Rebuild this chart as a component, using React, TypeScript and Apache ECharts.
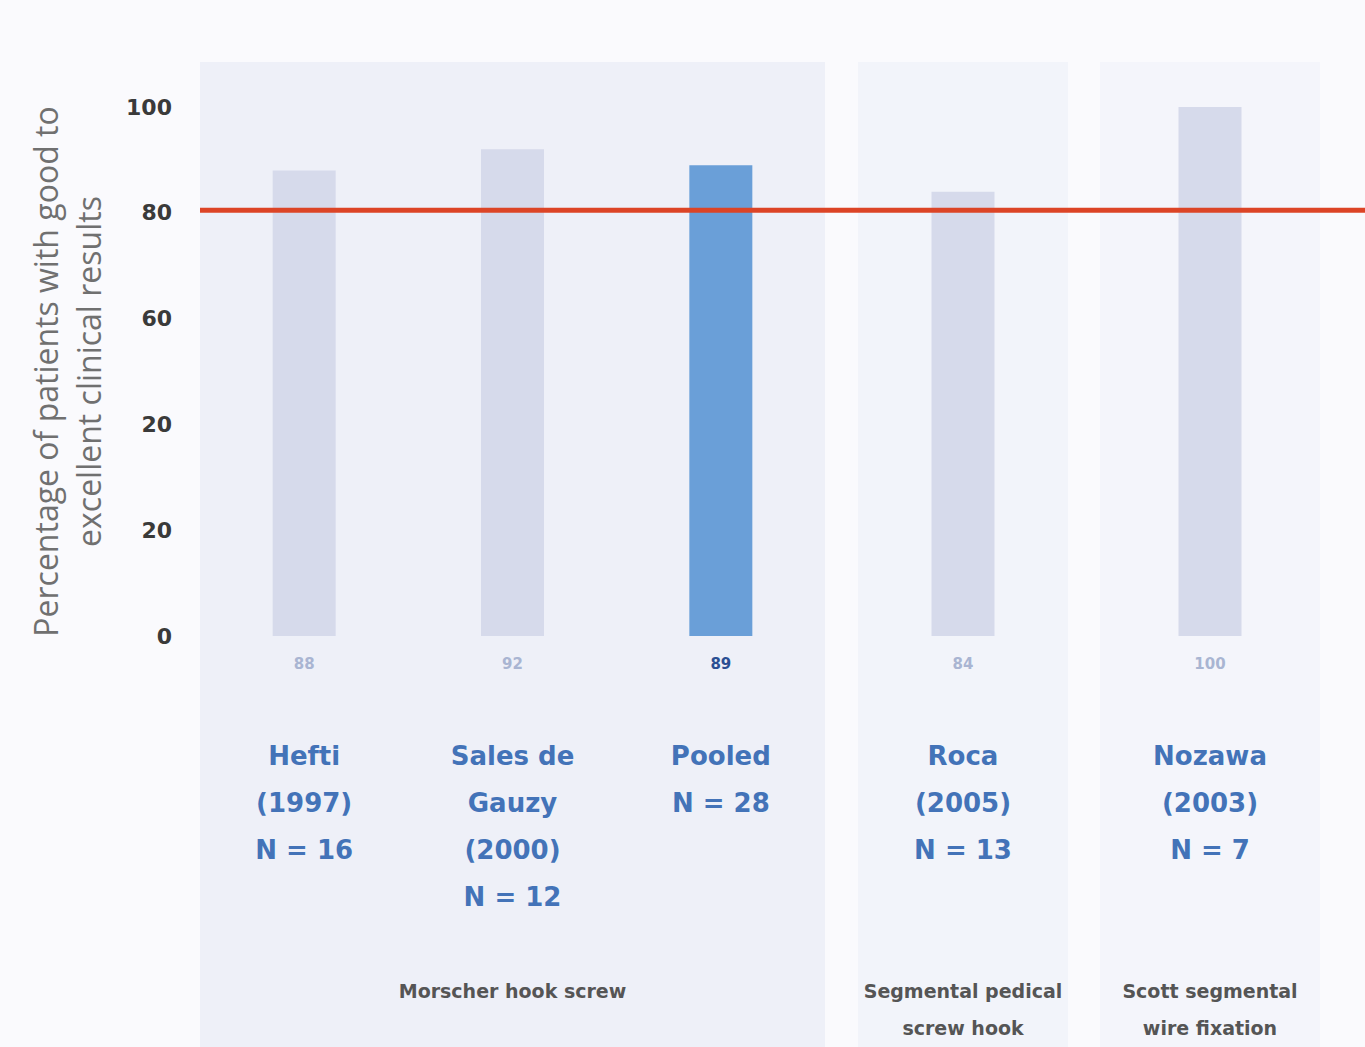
import React, { useEffect, useRef } from "react";
import * as echarts from "echarts";

const studyNames = [
  "Hefti\n(1997)\nN = 16",
  "Sales de\nGauzy\n(2000)\nN = 12",
  "Pooled\nN = 28",
  "Roca\n(2005)\nN = 13",
  "Nozawa\n(2003)\nN = 7",
];
const studyValues = [88, 92, 89, 84, 100];
const studyGroup = [0, 0, 0, 1, 2];
const pooledIndex = 2;
const groupNames = [
  "Morscher hook screw",
  "Segmental pedical\nscrew hook",
  "Scott segmental\nwire fixation",
];
const yTickLabels = ["0", "20", "20", "60", "80", "100"];
const thresholdValue = 80.5;
const yTitle = "Percentage of patients with good to\nexcellent clinical results";

const FONT = "'Open Sans', 'Noto Sans', sans-serif";
const WIDE = "'DejaVu Sans', 'Open Sans', sans-serif";

export default function App() {
  const ref = useRef<HTMLDivElement>(null);
  useEffect(() => {
    if (!ref.current) return;
    const chart = echarts.init(ref.current, undefined, { renderer: "svg" });

    const gridBoxes = [
      { left: 200, width: 625 },
      { left: 858, width: 210 },
      { left: 1100, width: 220 },
    ];
    const top = 107;
    const height = 529;

    const grids: any[] = gridBoxes.map((g) => ({
      left: g.left,
      width: g.width,
      top,
      height,
      outerBoundsMode: "none",
      containLabel: false,
    }));
    grids.push({ left: 200, right: 0, top, height, outerBoundsMode: "none", containLabel: false });

    const xAxes: any[] = [];
    const yAxes: any[] = [];
    const series: any[] = [];

    groupNames.forEach((gName, gi) => {
      const idx = studyValues.map((_, i) => i).filter((i) => studyGroup[i] === gi);
      xAxes.push({
        type: "category",
        gridIndex: gi,
        data: idx.map((i) => studyNames[i]),
        axisLine: { show: false },
        axisTick: { show: false },
        axisLabel: {
          interval: 0,
          margin: 96,
          fontSize: 26,
          lineHeight: 47,
          fontWeight: "bold",
          color: "#4373b8",
          fontFamily: WIDE,
        },
        name: gName,
        nameLocation: "middle",
        nameGap: 336,
        nameTextStyle: {
          fontSize: 19,
          lineHeight: 37,
          color: "#555",
          fontFamily: WIDE,
          fontWeight: "bold",
        },
      });
      yAxes.push({
        type: "value",
        gridIndex: gi,
        min: 0,
        max: 100,
        interval: 20,
        splitLine: { show: false },
        axisLine: { show: false },
        axisTick: { show: false },
        axisLabel: gi === 0
          ? {
              show: true,
              margin: 28,
              fontSize: 22,
              fontWeight: "bold",
              color: "#3a3a3a",
              fontFamily: WIDE,
              formatter: (v: number) => yTickLabels[Math.round(v / 20)],
            }
          : { show: false },
        name: gi === 0 ? yTitle : "",
        nameLocation: "middle",
        nameRotate: 90,
        nameGap: 90,
        nameTextStyle: {
          fontSize: 32,
          lineHeight: 43,
          color: "#707070",
          fontFamily: FONT,
        },
      });
      series.push({
        type: "bar",
        xAxisIndex: gi,
        yAxisIndex: gi,
        barWidth: 63,
        data: idx.map((i) => ({
          value: studyValues[i],
          itemStyle: { color: i === pooledIndex ? "#6a9fd8" : "#d6daeb" },
          label: {
            color: i === pooledIndex ? "#2b4f93" : "#a9b5d2",
          },
        })),
        label: {
          show: true,
          position: "bottom",
          distance: 20,
          fontSize: 15,
          fontWeight: "bold",
          fontFamily: WIDE,
        },
      });
    });

    // overlay grid for the threshold line
    xAxes.push({ type: "value", gridIndex: 3, min: 0, max: 1, show: false });
    yAxes.push({ type: "value", gridIndex: 3, min: 0, max: 100, show: false });
    series.push({
      type: "line",
      xAxisIndex: 3,
      yAxisIndex: 3,
      symbol: "none",
      data: [
        [0, thresholdValue],
        [1, thresholdValue],
      ],
      lineStyle: { color: "#dc4426", width: 5 },
      z: 10,
    });

    chart.setOption({
      animation: false,
      backgroundColor: "#fafafd",
      graphic: [
        { type: "rect", z: -10, shape: { x: 200, y: 62, width: 625, height: 985 }, style: { fill: "#eef0f8" } },
        { type: "rect", z: -10, shape: { x: 858, y: 62, width: 210, height: 985 }, style: { fill: "#f2f4fa" } },
        { type: "rect", z: -10, shape: { x: 1100, y: 62, width: 220, height: 985 }, style: { fill: "#f4f5fb" } },
      ],
      grid: grids,
      xAxis: xAxes,
      yAxis: yAxes,
      series,
    });

    return () => chart.dispose();
  }, []);

  return (
    <div
      ref={ref}
      style={{ position: "absolute", left: 0, top: 0, width: 1365, height: 1047 }}
    />
  );
}
